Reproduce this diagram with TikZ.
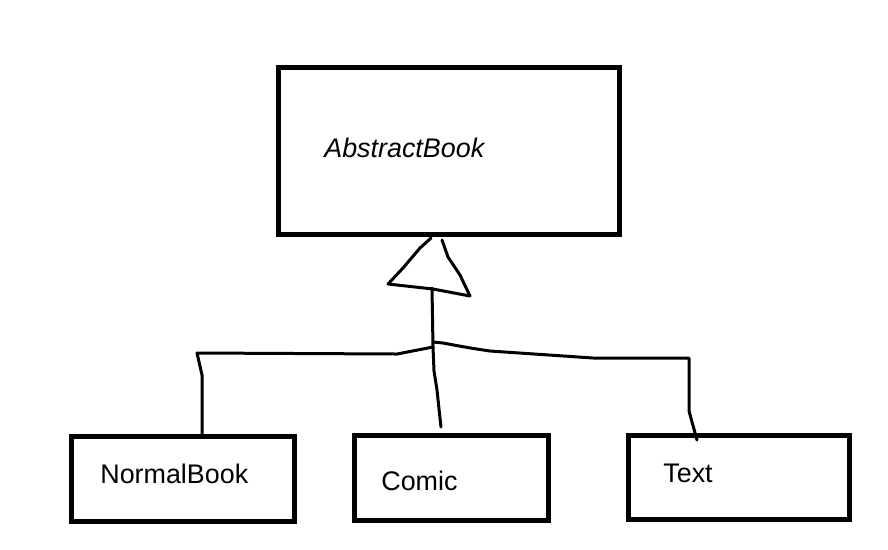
\documentclass[tikz,border=0pt]{standalone}
\usepackage{fontspec}
\setmainfont{Liberation Sans}
\begin{document}
\begin{tikzpicture}
        [x=0.02cm, y=-0.02cm,
        classBox/.style={rectangle, draw, line width=0.1cm, inner sep=0pt},
        txt/.style={anchor=base west, inner sep=0pt, font=\fontsize{15.3}{18}\selectfont},
        wire/.style={line width=0.06cm, line cap=round, line join=round}]
        \useasboundingbox (0,0) rectangle (888,549);

        \node[classBox, minimum width=6.83cm, minimum height=3.35cm] (abstract) at (448.75,151.25) {};
        \node[classBox, minimum width=4.48cm, minimum height=1.71cm] (normal) at (183,478.75) {};
        \node[classBox, minimum width=3.9cm, minimum height=1.71cm] (comic) at (451.5,477.75) {};
        \node[classBox, minimum width=4.43cm, minimum height=1.69cm] (text) at (738.75,477.25) {};

        \node[txt] (abstractTxt) at (324,157) {\itshape AbstractBook};
        \node[txt] (normalTxt) at (100,483) {NormalBook};
        \node[txt] (comicTxt) at (381,490) {Comic};
        \node[txt] (textTxt) at (663,482) {Text};

        % hand drawn triangle
        \coordinate (tipL) at (431,238);
        \coordinate (tipR) at (442,240);
        \coordinate (baseL) at (388,284);
        \coordinate (baseR) at (470,296);
        \coordinate (baseM) at (432,288);
        \coordinate (joint) at (433,347);
        \draw[wire] (tipR) -- (448,257) -- (460,275) -- (baseR) -- (433,289) -- (baseL) -- (403,268) -- (420,248) -- (tipL);
        \draw[wire] (baseM) -- (joint);

        % branches
        \coordinate (comicEnd) at (441,427);
        \coordinate (textEnd) at (697,440);
        \draw[wire] (joint) -- (397,354) -- (197,353) -- (202,375) -- (202,0 |- normal.north);
        \draw[wire] (joint) -- (434,371) -- (437,390) -- (439,409) -- (comicEnd);
        \draw[wire] (433,342) -- (443,343) .. controls (470,348) .. (490,351) -- (593,358) -- (689,358) -- (689,411) -- (textEnd);

    \end{tikzpicture}
\end{document}
